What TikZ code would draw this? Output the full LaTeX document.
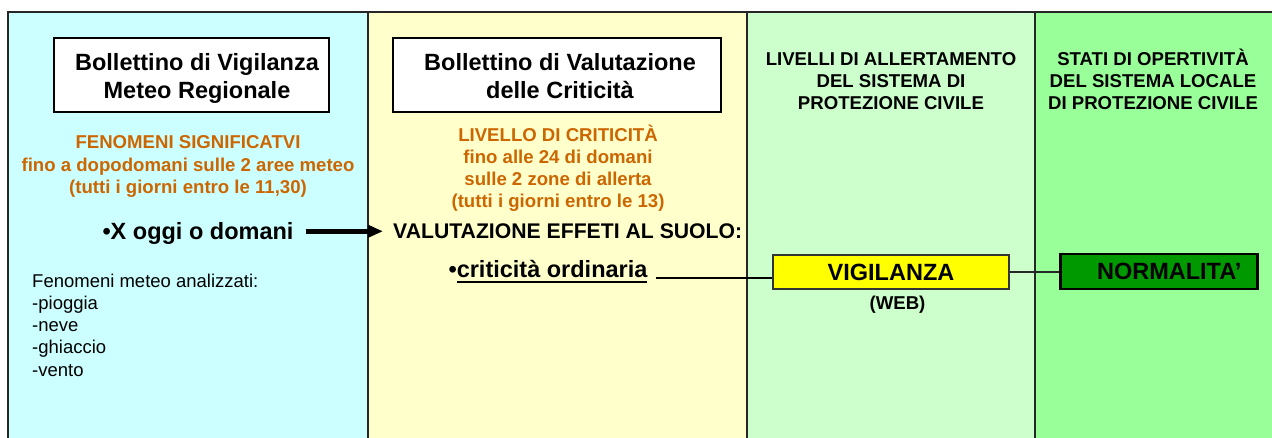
\documentclass[tikz,border=0pt]{standalone}
\usepackage{fontspec}
\setmainfont{Liberation Sans}
\usetikzlibrary{arrows.meta}
\definecolor{cyanbg}{HTML}{CCFFFF}
\definecolor{yellowbg}{HTML}{FFFFCC}
\definecolor{lgreenbg}{HTML}{CCFFCC}
\definecolor{greenbg}{HTML}{99FF99}
\definecolor{orangetxt}{HTML}{CC6600}
\definecolor{vigyellow}{HTML}{FFFF00}
\definecolor{normgreen}{HTML}{009900}
\newcommand\setfs[2]{\fontsize{#1pt}{#2pt}\selectfont}
\newsavebox\myulbox
\newcommand\thickul[1]{\sbox\myulbox{#1}\rlap{\rule[-5pt]{\wd\myulbox}{2pt}}\usebox\myulbox}
\begin{document}
\begin{tikzpicture}[x=1pt,y=-1pt,
  frame/.style={line width=2pt, draw=black!85},
  divider/.style={line width=1.5pt, draw=black!85},
  titlebox/.style={draw=black, line width=1.5pt, fill=white, inner sep=0pt},
  titletext/.style={font=\bfseries\setfs{23.5}{28.5}, align=center, inner sep=0pt},
  orangetext/.style={font=\bfseries\setfs{18.6}{22.3}, text=orangetxt, align=center, inner sep=0pt},
  headtext/.style={font=\bfseries\setfs{18.6}{22.3}, align=center, inner sep=0pt},
  bigtext/.style={font=\bfseries\setfs{23.5}{28}, inner sep=0pt},
  plaintext/.style={font=\setfs{18.5}{22.2}, align=left, inner sep=0pt},
  levelbox/.style={draw=black!80, line width=1.5pt, font=\bfseries\setfs{23.5}{28}, inner sep=0pt},
  conn/.style={line width=2pt, draw=black},
  thinconn/.style={line width=1.5pt, draw=black!85},
  bigarrow/.style={line width=4.5pt, draw=black, -{Triangle[length=15pt,width=12pt]}}
]
\useasboundingbox (0,0) rectangle (1272,438);
% column backgrounds
\fill[cyanbg] (8,12) rectangle (368,438);
\fill[yellowbg] (368,12) rectangle (747,438);
\fill[lgreenbg] (747,12) rectangle (1035,438);
\fill[greenbg] (1035,12) rectangle (1272,438);
\draw[frame] (8,438) -- (8,12) -- (1272,12);
\draw[divider] (368,12) -- (368,438);
\draw[divider] (747,12) -- (747,438);
\draw[divider] (1035,12) -- (1035,438);

% column 1 (base anchor = baseline of the last line)
\node[titlebox, minimum width=275pt, minimum height=74pt] (box1) at (191.5,75) {};
\node[titletext, anchor=base] (box1text) at (197,99) {Bollettino di Vigilanza\\Meteo Regionale};
\node[orangetext, anchor=base, font=\bfseries\setfs{18.6}{22.5}] (fen) at (188,194) {FENOMENI SIGNIFICATVI\\fino a dopodomani sulle 2 aree meteo\\(tutti i giorni entro le 11,30)};
\node[bigtext, anchor=base, inner xsep=12pt] (xoggi) at (198,239.3) {\textbullet X oggi o domani};
\node[plaintext, anchor=base west] (analiz) at (32,376) {Fenomeni meteo analizzati:\\-pioggia\\-neve\\-ghiaccio\\-vento};

% column 2
\node[titlebox, minimum width=328pt, minimum height=74pt] (box2) at (557.2,75) {};
\node[titletext, anchor=base] (box2text) at (560,99) {Bollettino di Valutazione\\delle Criticità};
\node[orangetext, anchor=base] (liv) at (558,208) {LIVELLO DI CRITICITÀ\\fino alle 24 di domani\\sulle 2 zone di allerta\\(tutti i giorni entro le 13)};
\node[font=\bfseries\setfs{21.2}{26}, anchor=base west, inner sep=0pt] (valut) at (393,239) {VALUTAZIONE EFFETI AL SUOLO:};
\node[bigtext, anchor=base, inner xsep=8pt] (crit) at (548,277.7) {\textbullet\thickul{criticità ordinaria}};

% column 3
\node[headtext, anchor=base] (allert) at (891,110) {LIVELLI DI ALLERTAMENTO\\DEL SISTEMA DI\\PROTEZIONE CIVILE};
\node[levelbox, fill=vigyellow, minimum width=236pt, minimum height=34pt] (vig) at (891,272) {VIGILANZA};
\node[headtext, anchor=base] (web) at (897.5,310) {(WEB)};

% column 4
\node[headtext, anchor=base] (stati) at (1153,110) {STATI DI OPERTIVITÀ\\DEL SISTEMA LOCALE\\DI PROTEZIONE CIVILE};
\node[levelbox, draw=black, line width=2.5pt, fill=normgreen, minimum width=197pt, minimum height=35pt, text width=165pt, align=right, inner xsep=16pt] (norm) at (1159,271.3) {NORMALITA’};

% connectors
\coordinate (arrstart) at ([yshift=2pt]xoggi.east);
\coordinate (arrtip) at ([xshift=-10pt]arrstart -| valut.west);
\draw[bigarrow] (arrstart) -- (arrtip);
\draw[conn] (crit.base east) -- (crit.base east -| vig.west);
\draw[thinconn] (vig.east) -- (vig.east -| norm.west);
\end{tikzpicture}
\end{document}
